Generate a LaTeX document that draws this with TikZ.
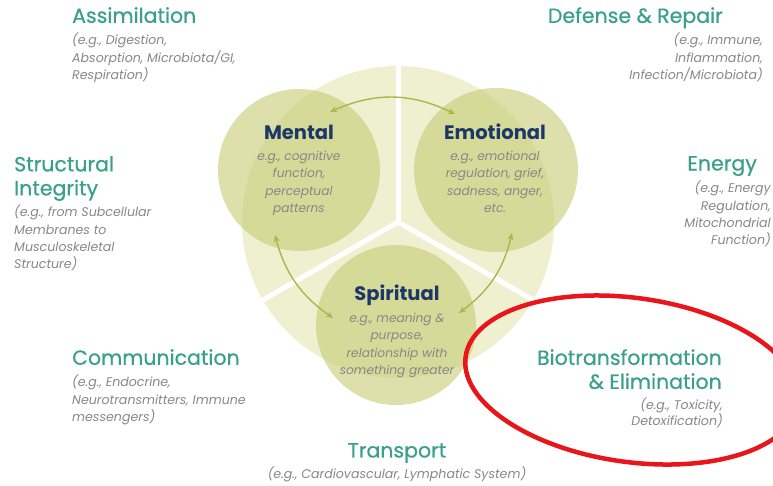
\documentclass[tikz,border=0pt]{standalone}
\usepackage{fontspec}
\newfontfamily\pop{Poppins}
\newfontfamily\popm{Poppins}[FakeBold=0.7]
\usetikzlibrary{arrows.meta}
\definecolor{tealt}{RGB}{58,160,140}
\definecolor{grayt}{RGB}{135,135,135}
\definecolor{navyt}{RGB}{30,55,105}
\definecolor{bigc}{RGB}{238,240,208}
\definecolor{smallc}{RGB}{198,204,115}
\definecolor{arrowc}{RGB}{166,185,74}
\definecolor{redc}{RGB}{232,22,27}
\tikzset{
  ttl/.style={text=tealt, font=\popm\fontsize{20.5}{24}\selectfont, inner sep=0pt},
  sub/.style={text=grayt, font=\pop\itshape\fontsize{12.6}{17.2}\selectfont, inner sep=0pt},
  ctl/.style={text=navyt, font=\pop\bfseries\fontsize{19.5}{22}\selectfont, inner sep=0pt},
  csub/.style={text=grayt, font=\pop\itshape\fontsize{12.2}{17.5}\selectfont, inner sep=0pt, align=center},
  smallcirc/.style={fill=smallc, fill opacity=0.6},
  arr/.style={draw=arrowc, line width=1.4pt, {Stealth[length=7pt,width=6pt]}-{Stealth[length=7pt,width=6pt]}},
}
\begin{document}
\begin{tikzpicture}[x=1pt,y=-1pt]
\useasboundingbox (0,0) rectangle (773,485);
\clip (0,0) rectangle (773,485);
% big circle
\coordinate (cc) at (398,222);
\fill[bigc] (cc) circle[radius=156];
\draw[white, line width=5pt] (cc) -- ++(90:-160) coordinate (dtop);
\draw[white, line width=5pt] (cc) -- ++(-30:-160) coordinate (dleft);
\draw[white, line width=5pt] (cc) -- ++(30:160) coordinate (dright);
% small circles
\fill[smallcirc] (299,170) circle[radius=81];
\fill[smallcirc] (496,170) circle[radius=82];
\fill[smallcirc] (396,325) circle[radius=80];
% arrows
\coordinate (a1) at (330,112);
\coordinate (a2) at (455,114);
\coordinate (b1) at (275,235);
\coordinate (b2) at (333,318);
\coordinate (c1) at (512,233);
\coordinate (c2) at (459,313);
\draw[arr] (a1) to[bend left=25] (a2);
\draw[arr] (b1) to[bend right=20] (b2);
\draw[arr] (c1) to[bend left=20] (c2);
% centre texts
\node[ctl] (mental) at (299,132) {Mental};
\node[csub, anchor=north] (mentals) at (299,151) {e.g., cognitive\\function,\\perceptual\\patterns};
\node[ctl] (emo) at (495,132) {Emotional};
\node[csub, anchor=north] (emos) at (495,151) {e.g., emotional\\regulation, grief,\\sadness, anger,\\etc.};
\node[ctl] (spir) at (397,295) {Spiritual};
\node[csub, anchor=north] (spirs) at (397,313) {e.g., meaning \&\\purpose,\\relationship with\\something greater};
% outer labels
\node[ttl, anchor=north west] (assim) at (72,7) {Assimilation};
\node[sub, anchor=north west, align=left] (assims) at (72,33) {(e.g., Digestion,\\Absorption, Microbiota/GI,\\Respiration)};
\node[ttl, anchor=north east] (def) at (723,7) {Defense \& Repair};
\node[sub, anchor=north east, align=right] (defs) at (763,33) {(e.g., Immune,\\Inflammation,\\Infection/Microbiota)};
\node[ttl, anchor=north west, align=left] (struct) at (14,156) {Structural\\Integrity};
\node[sub, anchor=north west, align=left] (structs) at (14,205) {(e.g., from Subcellular\\Membranes to\\Musculoskeletal\\Structure)};
\node[ttl, anchor=north east] (energy) at (757,156) {Energy};
\node[sub, anchor=north east, align=right] (energys) at (771,181) {(e.g., Energy\\Regulation,\\Mitochondrial\\Function)};
\node[ttl, anchor=north west] (comm) at (72,349) {Communication};
\node[sub, anchor=north west, align=left] (comms) at (72,375) {(e.g., Endocrine,\\Neurotransmitters, Immune\\messengers)};
\node[ttl, anchor=north east, align=right] (bio) at (722,349) {Biotransformation\\\& Elimination};
\node[sub, anchor=north east, align=right, font=\pop\itshape\fontsize{12.6}{16}\selectfont] (bios) at (723,398) {(e.g., Toxicity,\\Detoxification)};
\node[ttl, anchor=north] (trans) at (397,443) {Transport};
\node[sub, anchor=north] (transs) at (397,467) {(e.g., Cardiovascular, Lymphatic System)};
% red ellipse
\draw[redc, line width=4.5pt, rotate around={-8:(632,380)}] (632,380) ellipse[x radius=168, y radius=82];
\end{tikzpicture}
\end{document}
